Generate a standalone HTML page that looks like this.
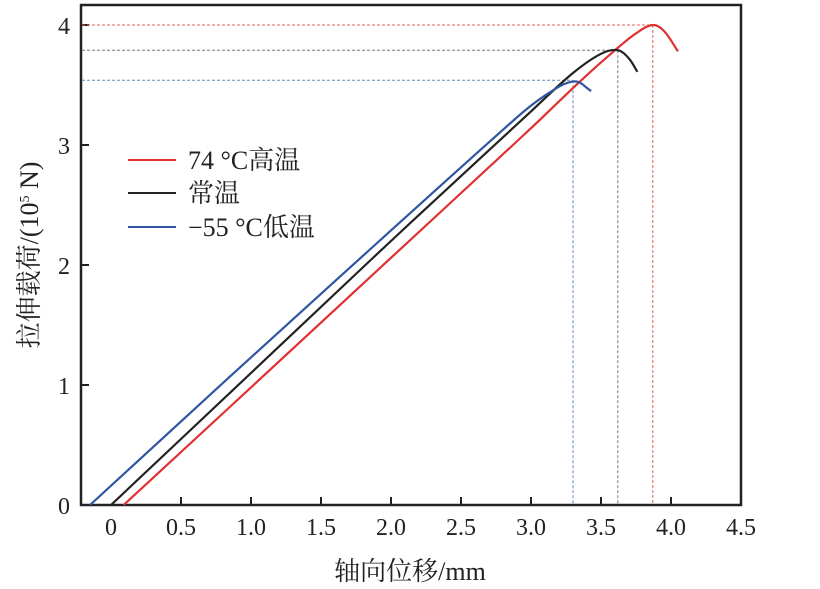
<!DOCTYPE html>
<html><head><meta charset="utf-8"><style>
body{margin:0;background:#fff;}
svg{display:block;font-family:"Liberation Serif","Noto Serif CJK SC",serif;}
</style></head><body>
<svg id="chart" width="820" height="589">
<rect x="81" y="5" width="660" height="500" fill="none" stroke="#222" stroke-width="2.5"/>
<g id="ticks"></g><g id="refs"></g><g id="lines"></g>
<text x="410" y="580" font-size="26" text-anchor="middle" fill="#222">轴向位移/mm</text>
<text transform="translate(38,255) rotate(-90)" font-size="26" text-anchor="middle" fill="#222">拉伸载荷/(10<tspan font-size="14" dy="-9">5</tspan><tspan dy="9"> N)</tspan></text>
<g>
<line x1="128" y1="160" x2="176" y2="160" stroke="#e03030" stroke-width="2"/>
<text x="188" y="169" font-size="26" fill="#222">74 °C高温</text>
<line x1="128" y1="193" x2="176" y2="193" stroke="#222" stroke-width="2"/>
<text x="188" y="202" font-size="26" fill="#222">常温</text>
<line x1="128" y1="227" x2="176" y2="227" stroke="#2f56a0" stroke-width="2"/>
<text x="188" y="236" font-size="26" fill="#222">−55 °C低温</text>
</g>
</svg>
<script>
const xTicks=[0,0.5,1.0,1.5,2.0,2.5,3.0,3.5,4.0,4.5];
const xTickLabels=["0","0.5","1.0","1.5","2.0","2.5","3.0","3.5","4.0","4.5"];
const yTicks=[0,1,2,3,4];
const yTickLabels=["0","1","2","3","4"];
const hotX=[0.09,1,2,3,3.35,3.6,3.75,3.87,3.95,4.05];
const hotY=[0,0.98,2.06,3.14,3.53,3.79,3.93,4.0,3.95,3.78];
const roomX=[0,1,2,3,3.3,3.5,3.62,3.7,3.76];
const roomY=[0,1.1,2.2,3.28,3.6,3.76,3.79,3.72,3.61];
const coldX=[-0.15,1,2.87,3.11,3.31,3.43];
const coldY=[0,1.23,3.2,3.42,3.53,3.45];
const peaksX=[3.87,3.62,3.3];
const peaksY=[4.0,3.79,3.54];
const colors=["#e03030","#222","#2f56a0"];
const refColors=["#e06060","#777","#6688c0"];
const X=v=>111+v*140, Y=v=>505-v*120;
const NS="http://www.w3.org/2000/svg";
function mk(t,a,p){const e=document.createElementNS(NS,t);for(const k in a)e.setAttribute(k,a[k]);p.appendChild(e);return e;}
const tg=document.getElementById('ticks');
xTicks.forEach((v,i)=>{
 if(v>0&&v<4.5){const l=mk('line',{x1:X(v),x2:X(v),y1:505,y2:497,stroke:'#222','stroke-width':2},tg);
 
 }
 const t=mk('text',{x:X(v),y:535,'font-size':24,'text-anchor':'middle',fill:'#222'},tg);t.textContent=xTickLabels[i];
 
 
});
yTicks.forEach((v,i)=>{
 if(v>0){const l=mk('line',{x1:81,x2:89,y1:Y(v),y2:Y(v),stroke:'#222','stroke-width':2},tg);
 
 }
 const t=mk('text',{x:70,y:Y(v)+9,'font-size':24,'text-anchor':'end',fill:'#222'},tg);t.textContent=yTickLabels[i];
 
 
});
const rg=document.getElementById('refs');
peaksX.forEach((px,i)=>{
 const h=mk('line',{x1:82,x2:X(px),y1:Y(peaksY[i]),y2:Y(peaksY[i]),stroke:refColors[i],'stroke-width':1,'stroke-dasharray':'3,2'},rg);
 
 
 const v=mk('line',{x1:X(px),x2:X(px),y1:Y(peaksY[i]),y2:504,stroke:refColors[i],'stroke-width':1,'stroke-dasharray':'3,2'},rg);
 
 
});
function path(xs,ys){
 const p=xs.map((x,i)=>[X(x),Y(ys[i])]);const n=p.length;
 const tan=p.map((q,i)=>{const a=p[Math.max(0,i-1)],c=p[Math.min(n-1,i+1)];const dx=c[0]-a[0],dy=c[1]-a[1];const L=Math.hypot(dx,dy)||1;return [dx/L,dy/L];});
 let d='M'+p[0];
 for(let i=0;i<n-1;i++){const b=p[i],c=p[i+1];const L=Math.hypot(c[0]-b[0],c[1]-b[1])/3;
  d+=' C'+(b[0]+tan[i][0]*L)+','+(b[1]+tan[i][1]*L)+' '+(c[0]-tan[i+1][0]*L)+','+(c[1]-tan[i+1][1]*L)+' '+c;}
 return d;}
const lg=document.getElementById('lines');
[[hotX,hotY,'series-74c-high-temp'],[roomX,roomY,'series-room-temp'],[coldX,coldY,'series-minus55c-low-temp']].forEach((s,i)=>{
 const e=mk('path',{d:path(s[0],s[1]),fill:'none',stroke:colors[i],'stroke-width':2.2},lg);
 
 
});
</script>
</body></html>
